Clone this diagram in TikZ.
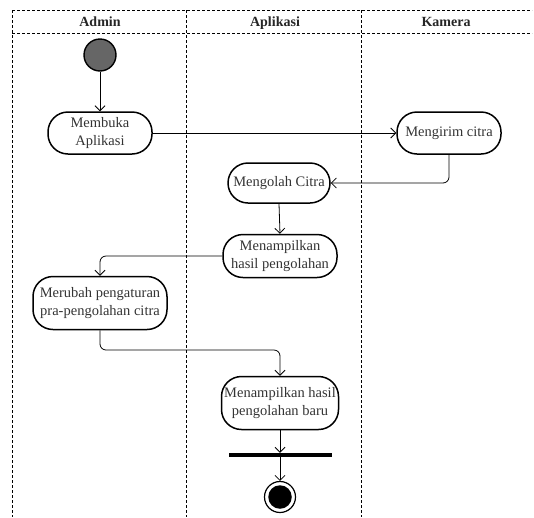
\documentclass[tikz,border=0pt]{standalone}
\usepackage{fontspec}
\setmainfont{Liberation Serif}
\usetikzlibrary{arrows.meta}
\tikzset{
  lane/.style={dash pattern=on 3pt off 2pt, line width=0.7pt},
  hdr/.style={font=\fontsize{14}{16}\selectfont\bfseries, text=black!85, anchor=base},
  act/.style={draw, rectangle, rounded corners=20pt, line width=1.5pt, inner sep=0pt,
              align=center, font=\fontsize{14.5}{18}\selectfont, text=black!80},
  flow/.style={line width=0.8pt, -{Straight Barb[length=5pt,width=10pt]}, rounded corners=6pt},
}
\begin{document}
\begin{tikzpicture}[x=1pt,y=-1pt]
\useasboundingbox (0,0) rectangle (534,517);
% swimlanes
\draw[lane] (12,10) -- (532,10);
\draw[lane] (12,33) -- (532,33);
\draw[lane] (12,10) -- (12,517);
\draw[lane] (186,10) -- (186,517);
\draw[lane] (361,10) -- (361,517);
\node[hdr] (hA) at (100,26.5) {Admin};
\node[hdr] (hB) at (275,26.5) {Aplikasi};
\node[hdr] (hC) at (446,26.5) {Kamera};
% nodes
\node[circle, draw, line width=1.4pt, fill=black!60, minimum size=32pt, inner sep=0pt] (start) at (100,55) {};
\node[act, minimum width=104pt, minimum height=42pt] (membuka) at (100,133) {Membuka\\Aplikasi};
\node[act, minimum width=104pt, minimum height=42pt] (kirim) at (449,133) {Mengirim citra};
\node[act, minimum width=102pt, minimum height=40pt] (olah) at (279,183) {Mengolah Citra};
\node[act, minimum width=114pt, minimum height=43pt] (tampil) at (280,256) {Menampilkan\\hasil pengolahan};
\node[act, minimum width=134pt, minimum height=53pt] (ubah) at (100,303) {Merubah pengaturan\\pra-pengolahan citra};
\node[act, minimum width=117pt, minimum height=53pt] (baru) at (280,403) {Menampilkan hasil\\pengolahan baru};
\node[rectangle, fill=black, minimum width=103pt, minimum height=4pt, inner sep=0pt] (bar) at (280,455) {};
\node[circle, draw, line width=1.2pt, minimum size=31pt, inner sep=0pt] (end) at (280,497) {};
\node[circle, fill=black, minimum size=23.5pt, inner sep=0pt] (endin) at (end.center) {};
\coordinate (c1) at (280,350);
% connectors
\draw[flow] (start.south) -- (membuka.north);
\draw[flow] (membuka.east) -- (kirim.west);
\draw[flow] (kirim.south) |- (olah.east);
\draw[flow] (olah.south) -- (tampil.north);
\draw[flow] (tampil.west) -| (ubah.north);
\draw[flow] (ubah.south) |- (c1) -- (baru.north);
\draw[flow] (baru.south) -- (bar.north);
\draw[flow] (bar.south) -- (end.north);
\end{tikzpicture}
\end{document}
